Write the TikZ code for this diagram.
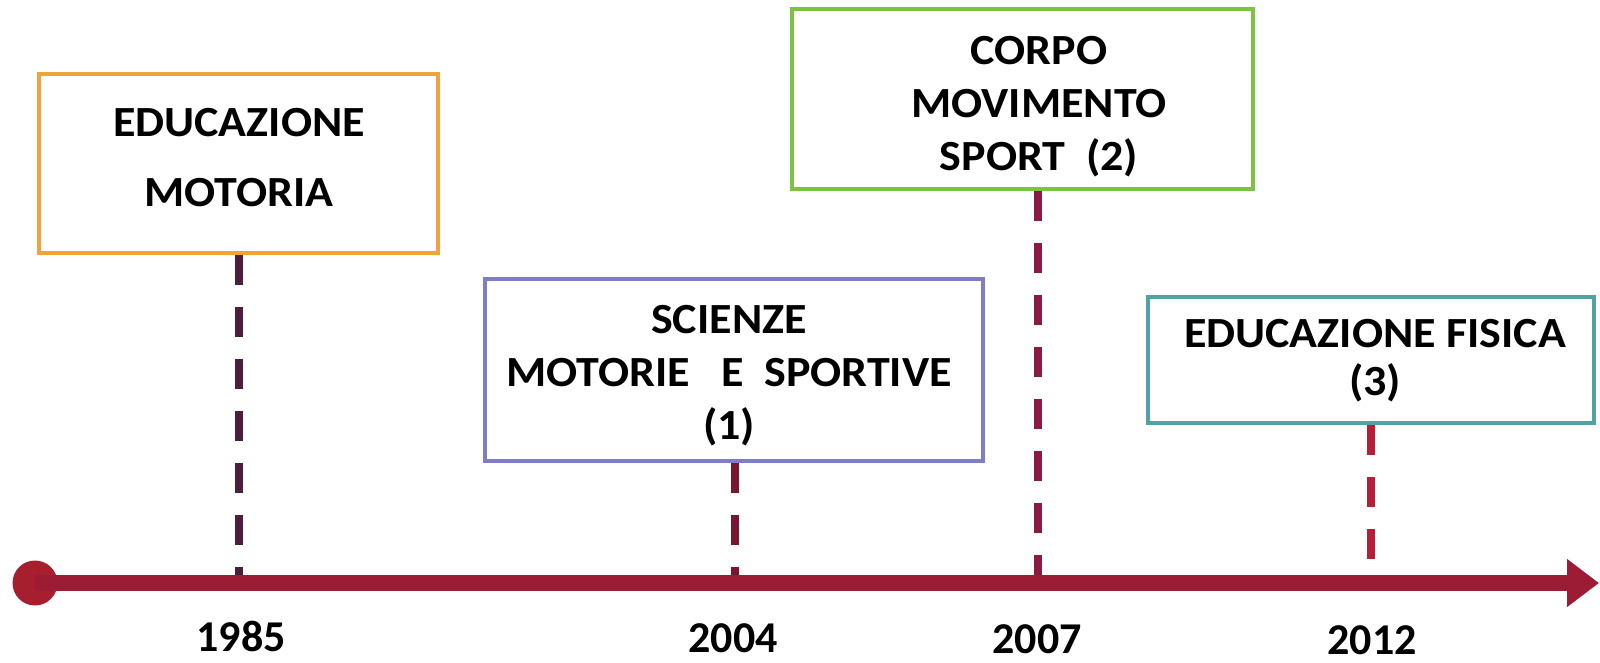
\documentclass[tikz,border=0pt]{standalone}
\usepackage{fontspec}
\setmainfont{Carlito}
\newfontfamily\widefont[FakeStretch=1.07]{Carlito}
\usetikzlibrary{arrows.meta}
\definecolor{axisred}{HTML}{9B1C34}
\definecolor{dotred}{HTML}{A71E2E}
\definecolor{orangeb}{HTML}{F0A23E}
\definecolor{purpleb}{HTML}{7E7EC2}
\definecolor{greenb}{HTML}{7DC242}
\definecolor{tealb}{HTML}{4FA3A0}
\definecolor{dashA}{HTML}{4B1E3C}
\definecolor{dashB}{HTML}{7A1530}
\definecolor{dashC}{HTML}{8C1B43}
\definecolor{dashD}{HTML}{B51F3A}
\tikzset{
  framebox/.style={draw=#1, line width=3.5pt, fill=white, inner sep=0pt},
  boxtext/.style={align=center, inner sep=0pt, font=\widefont\bfseries\fontsize{43}{53}\selectfont},
  yeartext/.style={anchor=north, inner sep=0pt, font=\bfseries\fontsize{44}{50}\selectfont},
  dashline/.style={draw=#1, line width=8pt, dash pattern=on 30pt off 22pt},
  axisline/.style={draw=axisred, line width=16pt, -{Triangle[length=32pt,width=46pt]}}
}
\begin{document}
\begin{tikzpicture}[x=1pt,y=-1pt]
\useasboundingbox (0,0) rectangle (1600,662);
% axis
\coordinate (t1985) at (239,583);
\coordinate (t2004) at (735,583);
\coordinate (t2007) at (1038,583);
\coordinate (t2012) at (1371,583);
\coordinate (axisend) at (1599,583);
% boxes
\node[framebox=orangeb, minimum width=399pt, minimum height=179pt] (b1985) at (238.5,163.5) {};
\node[framebox=purpleb, minimum width=498pt, minimum height=182pt] (b2004) at (734,370) {};
\node[framebox=greenb, minimum width=461pt, minimum height=180pt] (b2007) at (1022.5,99) {};
\node[framebox=tealb, minimum width=446pt, minimum height=126pt] (b2012) at (1371,360) {};
% texts
\node[boxtext, font=\widefont\bfseries\fontsize{43}{70}\selectfont] (l1985) at (239,158) {EDUCAZIONE\\MOTORIA};
\node[boxtext] (l2004) at (729,376) {SCIENZE\\MOTORIE\ \ \ E\ \ SPORTIVE\\(1)};
\node[boxtext] (l2007) at (1039,107) {CORPO\\MOVIMENTO\\SPORT\ \ (2)};
\node[boxtext, font=\widefont\bfseries\fontsize{43}{48}\selectfont] (l2012) at (1375,361) {EDUCAZIONE FISICA\\(3)};
% dashed connectors
\draw[dashline=dashA] (b1985.south -| t1985) -- (t1985);
\draw[dashline=dashB] (b2004.south -| t2004) -- (t2004);
\draw[dashline=dashC] (b2007.south -| t2007) -- (t2007);
\draw[dashline=dashD] (b2012.south -| t2012) -- (t2012);
% axis line and start dot
\node[circle, fill=dotred, minimum size=45pt, inner sep=0pt] (start) at (35,583) {};
\draw[axisline] (start.center) -- (axisend);
% years
\node[yeartext] (y1985) at (241,621) {1985};
\node[yeartext] (y2004) at (733,623) {2004};
\node[yeartext] (y2007) at (1037,624) {2007};
\node[yeartext] (y2012) at (1372,625) {2012};
\end{tikzpicture}
\end{document}
